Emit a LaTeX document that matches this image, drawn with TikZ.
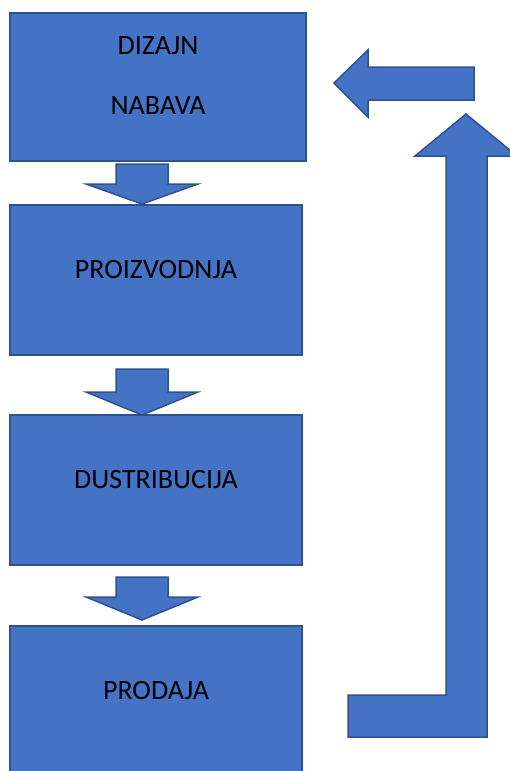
\documentclass[tikz,border=0pt]{standalone}
\usepackage{fontspec}
\setmainfont{Carlito}
\definecolor{boxblue}{HTML}{4472C4}
\definecolor{edgeblue}{HTML}{2F528F}
\tikzset{
  stage/.style={draw=edgeblue, fill=boxblue, line width=1.5pt,
    minimum width=292pt, minimum height=150pt,
    font=\fontsize{28}{60}\selectfont, text depth=22pt, align=center},
  blockarrow/.style={draw=edgeblue, fill=boxblue, line width=1.5pt, line join=miter}
}
\begin{document}
\begin{tikzpicture}[x=1pt,y=-1pt]
\useasboundingbox (0,0) rectangle (510,771);

\node[stage, minimum width=296pt, minimum height=148pt] (dizajn) at (158,87) {DIZAJN\\NABAVA};
\node[stage] (proizvodnja) at (156,280) {PROIZVODNJA};
\node[stage] (distribucija) at (156,490) {DUSTRIBUCIJA};
\node[stage] (prodaja) at (156,701) {PRODAJA};

% arrows between the stages
\foreach \ya/\yb/\yc in {164/184/204, 369/392/415, 577/597/620}
  \draw[blockarrow] (116,\ya) -- (168,\ya) -- (168,\yb) -- (198,\yb) -- (142,\yc) -- (86,\yb) -- (116,\yb) -- cycle;

% back to the start
\draw[blockarrow] (348,695) -- (446,695) -- (446,156) -- (415,156) -- (466,114) -- (517,156) -- (487,156) -- (487,737) -- (348,737) -- cycle;
\draw[blockarrow] (474,67) -- (368,67) -- (368,50) -- (334,83) -- (368,117) -- (368,100) -- (474,100) -- cycle;

\end{tikzpicture}
\end{document}
